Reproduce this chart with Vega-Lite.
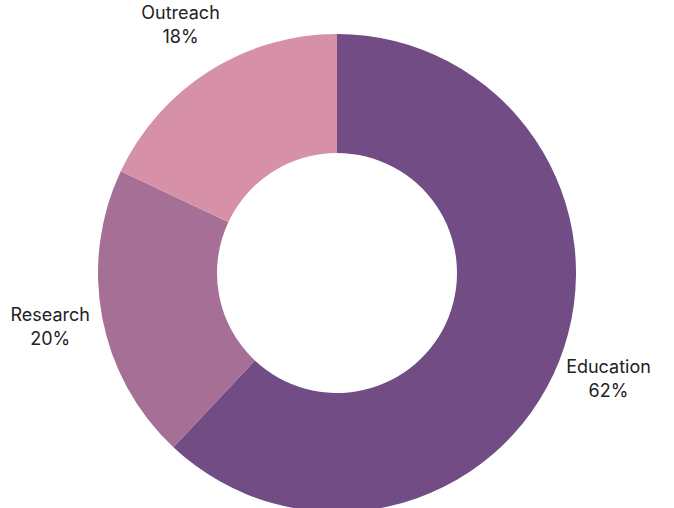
{
  "$schema": "https://vega.github.io/schema/vega-lite/v6.json",
  "width": 674,
  "height": 470,
  "autosize": "none",
  "padding": {"top": 38, "bottom": 0, "left": 0, "right": 0},
  "background": "white",
  "view": {"stroke": null},
  "data": {
    "values": [
      {"category": "Education", "value": 62, "label": "Education\n62%"},
      {"category": "Research", "value": 20, "label": "Research\n20%"},
      {"category": "Outreach", "value": 18, "label": "Outreach\n18%"}
    ]
  },
  "encoding": {
    "theta": {"field": "value", "type": "quantitative", "stack": true},
    "order": {"field": "value", "type": "quantitative", "sort": "descending"},
    "color": {
      "field": "category",
      "type": "nominal",
      "scale": {"domain": ["Education", "Research", "Outreach"], "range": ["#724C85", "#A56F96", "#D690A8"]},
      "legend": null
    }
  },
  "layer": [
    {"mark": {"type": "arc", "outerRadius": 239, "innerRadius": 120, "stroke": null, "clip": false}},
    {
      "mark": {"type": "text", "radius": 292, "dy": -12, "fontSize": 18, "font": "Inter", "lineBreak": "\n", "lineHeight": 24, "align": "center", "baseline": "middle", "fill": "#222222", "clip": false},
      "encoding": {
        "text": {"field": "label", "type": "nominal"},
        "color": {"value": "#222222"}
      }
    }
  ]
}
